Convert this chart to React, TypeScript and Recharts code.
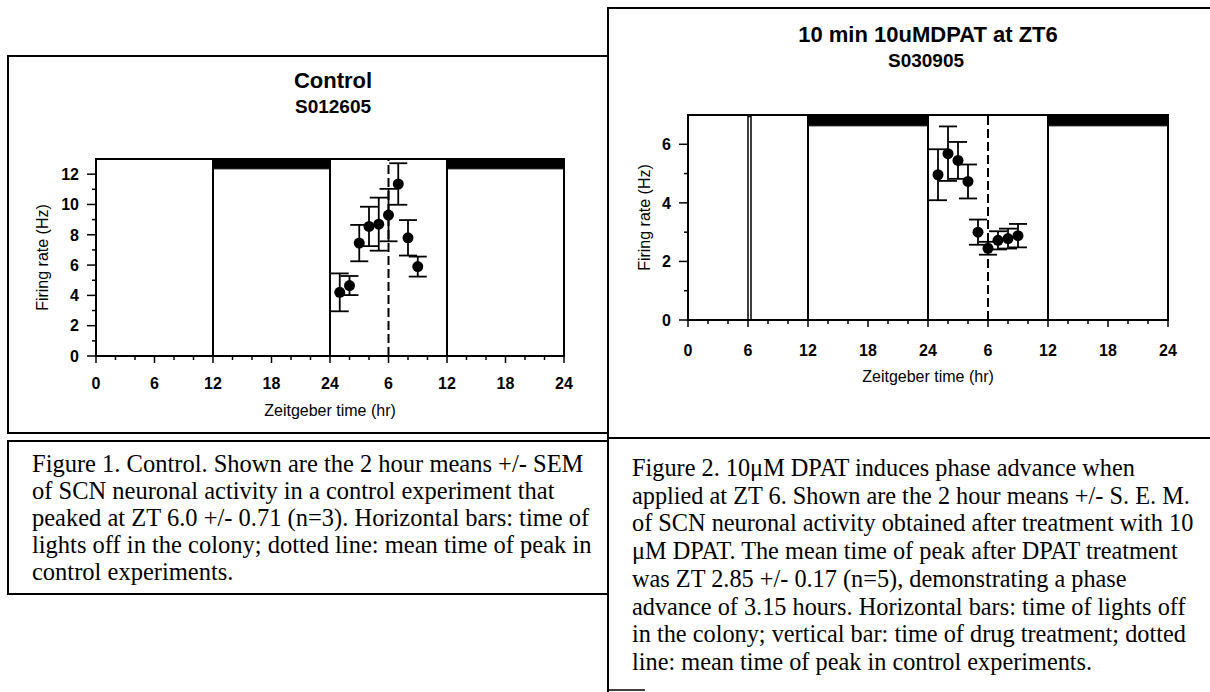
import React from 'react';
import {
  ComposedChart,
  Scatter,
  ErrorBar,
  XAxis,
  YAxis,
  ReferenceArea,
  ReferenceLine,
} from 'recharts';

// ---------- data ----------
const hours = [25, 26, 27, 28, 29, 30, 31, 32, 33];
const controlMeans = [4.2, 4.65, 7.45, 8.55, 8.7, 9.3, 11.35, 7.8, 5.9];
const controlSEM = [1.25, 0.63, 1.2, 1.3, 1.75, 1.73, 1.37, 1.17, 0.66];
const dpatMeans = [4.96, 5.68, 5.45, 4.73, 3.0, 2.45, 2.72, 2.78, 2.88];
const dpatSEM = [0.87, 0.93, 0.63, 0.58, 0.43, 0.22, 0.31, 0.34, 0.4];

const daySegments = [
  [0, 12],
  [12, 24],
  [24, 36],
  [36, 48],
];
const lightsOff = [
  [12, 24],
  [36, 48],
];
const drugTreatment = [6, 6.3];
const controlPeakTime = 30;

const xTicks = [0, 2, 4, 6, 8, 10, 12, 14, 16, 18, 20, 22, 24, 26, 28, 30, 32, 34, 36, 38, 40, 42, 44, 46, 48];
const xMajorTicks = [0, 6, 12, 18, 24, 30, 36, 42, 48];
const xTickLabels = ['0', '6', '12', '18', '24', '6', '12', '18', '24'];
const controlYTicks = [0, 1, 2, 3, 4, 5, 6, 7, 8, 9, 10, 11, 12];
const dpatYTicks = [0, 1, 2, 3, 4, 5, 6];

const controlData = hours.map((h, i) => ({ x: h, y: controlMeans[i], err: controlSEM[i] }));
const dpatData = hours.map((h, i) => ({ x: h, y: dpatMeans[i], err: dpatSEM[i] }));

const caption1 = [
  'Figure 1. Control. Shown are the 2 hour means +/- SEM',
  'of SCN neuronal activity in a control experiment that',
  'peaked at ZT 6.0 +/- 0.71 (n=3). Horizontal bars: time of',
  'lights off in the colony; dotted line: mean time of peak in',
  'control experiments.',
];
const caption2 = [
  'Figure 2. 10\u03bcM DPAT induces phase advance when',
  'applied at ZT 6. Shown are the 2 hour means +/- S. E. M.',
  'of SCN neuronal activity obtained after treatment with 10',
  '\u03bcM DPAT. The mean time of peak after DPAT treatment',
  'was ZT 2.85 +/- 0.17 (n=5), demonstrating a phase',
  'advance of 3.15 hours. Horizontal bars: time of lights off',
  'in the colony; vertical bar: time of drug treatment; dotted',
  'line: mean time of peak in control experiments.',
];

// ---------- styles ----------
const SANS = '"Liberation Sans", Arial, Helvetica, sans-serif';
const SERIF = '"Liberation Serif", "Times New Roman", serif';

const XTick = (props: any) => {
  const { x, y, payload, labelDy } = props;
  const v = payload.value;
  const idx = xMajorTicks.indexOf(v);
  const major = idx >= 0;
  return (
    <g>
      <line x1={x} x2={x} y1={y} y2={y + (major ? 7 : 4)} stroke="#000" strokeWidth={1.5} />
      {major && (
        <text x={x} y={y + labelDy} textAnchor="middle" fontSize={16} fontWeight="bold" fontFamily={SANS} fill="#000">
          {xTickLabels[idx]}
        </text>
      )}
    </g>
  );
};

const YTick = (props: any) => {
  const { x, y, payload } = props;
  const v = payload.value;
  const major = v % 2 === 0;
  return (
    <g>
      <line x1={x - (major ? 9 : 4)} x2={x} y1={y} y2={y} stroke="#000" strokeWidth={1.5} />
      {major && (
        <text x={x - 17} y={y} dy="0.36em" textAnchor="end" fontSize={16} fontWeight="bold" fontFamily={SANS} fill="#000">
          {v}
        </text>
      )}
    </g>
  );
};

const DotShape = (props: any) => <circle cx={props.cx} cy={props.cy} r={5.5} fill="#000" />;

type PanelProps = {
  data: any[];
  yMax: number;
  yTicks: number[];
  band: number;
  width: number;
  height: number;
  margin: any;
  yWidth: number;
  xHeight: number;
  xLabelOffset: number;
  yLabelOffset: number;
  tickLabelDy: number;
  drug?: number[];
};

const Panel = (p: PanelProps) => (
  <ComposedChart width={p.width} height={p.height} margin={p.margin}>
    <XAxis
      dataKey="x"
      type="number"
      domain={[0, 48]}
      ticks={xTicks}
      interval={0}
      allowDataOverflow
      tickSize={0}
      tickMargin={0}
      tickLine={false}
      tick={<XTick labelDy={p.tickLabelDy} />}
      axisLine={{ stroke: '#000', strokeWidth: 2 }}
      height={p.xHeight}
      label={{
        value: 'Zeitgeber time (hr)',
        position: 'insideBottom',
        offset: p.xLabelOffset,
        fill: '#000',
        fontSize: 16,
        fontFamily: SANS,
      }}
    />
    <YAxis
      dataKey="y"
      type="number"
      domain={[0, p.yMax]}
      ticks={p.yTicks}
      interval={0}
      allowDataOverflow
      width={p.yWidth}
      tickSize={0}
      tickMargin={0}
      tickLine={false}
      tick={<YTick />}
      axisLine={{ stroke: '#000', strokeWidth: 2 }}
      label={{
        value: 'Firing rate (Hz)',
        angle: -90,
        position: 'insideLeft',
        offset: p.yLabelOffset,
        fill: '#000',
        fontSize: 16,
        fontFamily: SANS,
        style: { textAnchor: 'middle' },
      }}
    />
    {daySegments.map(([a, b]) => (
      <ReferenceArea
        key={'d' + a}
        x1={a}
        x2={b}
        y1={0}
        y2={p.yMax}
        fill="#fff"
        fillOpacity={1}
        stroke="#000"
        strokeWidth={2}
        ifOverflow="visible"
      />
    ))}
    {lightsOff.map(([a, b]) => (
      <ReferenceArea
        key={'n' + a}
        x1={a}
        x2={b}
        y1={p.band}
        y2={p.yMax}
        fill="#000"
        fillOpacity={1}
        stroke="#000"
        strokeWidth={1}
        ifOverflow="visible"
      />
    ))}
    {p.drug && (
      <ReferenceArea
        x1={p.drug[0]}
        x2={p.drug[1]}
        y1={0}
        y2={p.yMax * 0.993}
        fill="#fff"
        fillOpacity={1}
        stroke="#000"
        strokeWidth={1.5}
        ifOverflow="visible"
      />
    )}
    <ReferenceLine x={controlPeakTime} stroke="#000" strokeWidth={2} strokeDasharray="9 4" ifOverflow="visible" />
    <Scatter data={p.data} dataKey="y" isAnimationActive={false} shape={<DotShape />}>
      <ErrorBar dataKey="err" direction="y" width={9} stroke="#000" strokeWidth={1.8} isAnimationActive={false} />
    </Scatter>
  </ComposedChart>
);

export default function App() {
  return (
    <div style={{ position: 'absolute', left: 0, top: 0, width: 1210, height: 692, background: '#fff', overflow: 'hidden' }}>
      <svg width={1210} height={692} style={{ position: 'absolute', left: 0, top: 0 }}>
        {/* frames */}
        <rect x={8} y={56} width={600} height={377} fill="none" stroke="#000" strokeWidth={2} />
        <rect x={8} y={441} width={600} height={153} fill="none" stroke="#000" strokeWidth={2} />
        <line x1={608} y1={8} x2={608} y2={692} stroke="#000" strokeWidth={2} />
        <line x1={607} y1={8} x2={1210} y2={8} stroke="#000" strokeWidth={2} />
        <line x1={607} y1={438} x2={1210} y2={438} stroke="#000" strokeWidth={2} />
        <line x1={608} y1={690} x2={645} y2={690} stroke="#000" strokeWidth={1.5} />

        {/* titles */}
        <text x={333} y={88} textAnchor="middle" fontSize={22} fontWeight="bold" fontFamily={SANS} fill="#000">
          Control
        </text>
        <text x={333} y={113} textAnchor="middle" fontSize={19} fontWeight="bold" fontFamily={SANS} fill="#000">
          S012605
        </text>
        <text x={928} y={42} textAnchor="middle" fontSize={22} fontWeight="bold" fontFamily={SANS} fill="#000">
          10 min 10uMDPAT at ZT6
        </text>
        <text x={926} y={67} textAnchor="middle" fontSize={19} fontWeight="bold" fontFamily={SANS} fill="#000">
          S030905
        </text>

        {/* captions */}
        {caption1.map((line, i) => (
          <text key={'c1' + i} x={32} y={472 + i * 27} fontSize={24.5} fontFamily={SERIF} fill="#000">
            {line}
          </text>
        ))}
        {caption2.map((line, i) => (
          <text key={'c2' + i} x={632} y={476 + i * 27.7} fontSize={24.3} fontFamily={SERIF} fill="#000">
            {line}
          </text>
        ))}
      </svg>

      <div style={{ position: 'absolute', left: 8, top: 56 }}>
        <Panel
          data={controlData}
          yMax={13}
          yTicks={controlYTicks}
          band={12.35}
          width={600}
          height={377}
          margin={{ top: 103, right: 44, bottom: 0, left: 0 }}
          yWidth={88}
          xHeight={77}
          xLabelOffset={17}
          yLabelOffset={34}
          tickLabelDy={33}
        />
      </div>

      <div style={{ position: 'absolute', left: 608, top: 8 }}>
        <Panel
          data={dpatData}
          yMax={7}
          yTicks={dpatYTicks}
          band={6.63}
          width={600}
          height={429}
          margin={{ top: 107, right: 40, bottom: 37, left: 0 }}
          yWidth={80}
          xHeight={80}
          xLabelOffset={18}
          yLabelOffset={36}
          tickLabelDy={36}
          drug={drugTreatment}
        />
      </div>
    </div>
  );
}
